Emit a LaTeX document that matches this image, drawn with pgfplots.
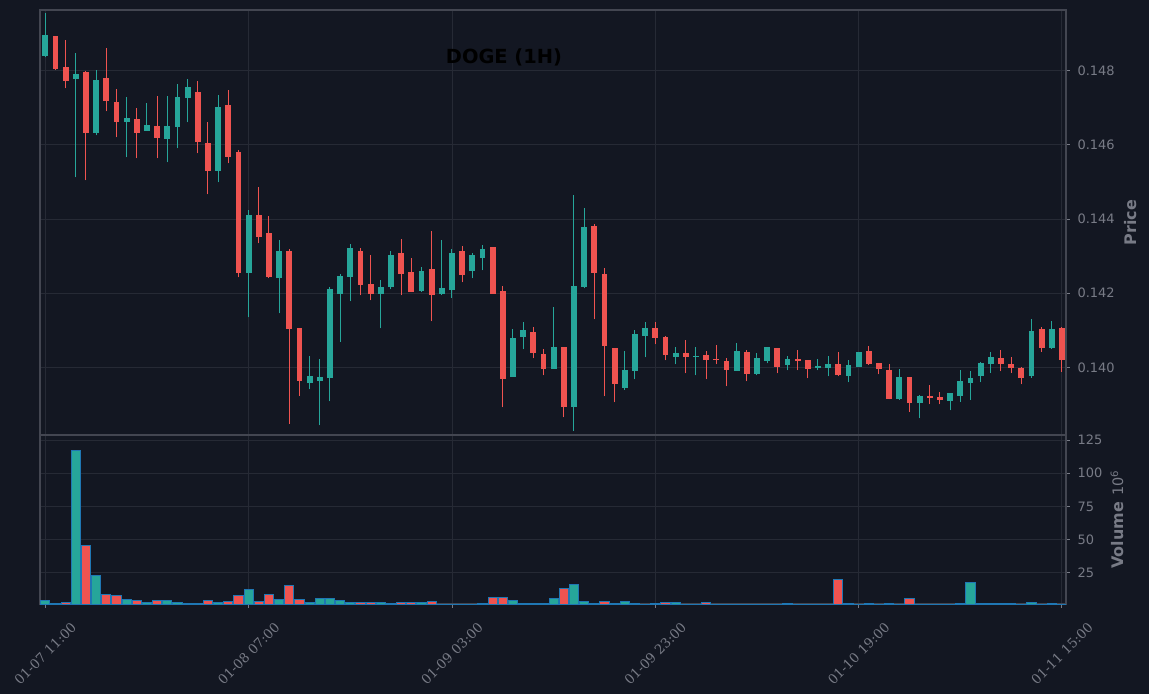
\documentclass[border=0pt]{standalone}
\usepackage{pgfplots}
\pgfplotsset{compat=1.18}
\usepackage{pgfplotstable}
\usepackage{fontspec}
\setmainfont{DejaVu Sans}
\newfontfamily\serifx{DejaVu Serif}
\definecolor{bgc}{HTML}{131722}
\definecolor{gridc}{HTML}{262A35}
\definecolor{spinec}{HTML}{434651}
\definecolor{txtc}{HTML}{787B86}
\definecolor{upc}{HTML}{26A69A}
\definecolor{dnc}{HTML}{EF5350}
\definecolor{edgec}{HTML}{1F77B4}

% up (green) candles: index, open, high, low, close, volume (1e6)
\pgfplotstableread{
i o h l c v
0 0.148405 0.149546 0.148360 0.148962 4.2
3 0.147784 0.148468 0.145124 0.147910 117.3
5 0.146328 0.148018 0.146256 0.147749 23.0
8 0.146625 0.147281 0.145663 0.146724 4.9
10 0.146382 0.147119 0.146382 0.146535 2.2
12 0.146166 0.147308 0.145528 0.146508 4.2
13 0.146490 0.147632 0.145906 0.147290 2.7
14 0.147272 0.147775 0.146607 0.147560 2.0
17 0.145304 0.147344 0.144989 0.147020 2.2
20 0.142553 0.144234 0.141348 0.144108 12.5
23 0.142418 0.143425 0.141456 0.143137 4.9
26 0.139587 0.140306 0.139407 0.139766 2.7
27 0.139641 0.140216 0.138436 0.139739 5.7
28 0.139721 0.142157 0.139083 0.142113 5.7
29 0.141987 0.142508 0.140692 0.142463 4.2
30 0.142445 0.143326 0.141780 0.143218 2.7
33 0.141987 0.142355 0.141052 0.142166 2.2
34 0.142175 0.143137 0.142104 0.143029 1.5
37 0.142068 0.142706 0.142041 0.142598 2.7
39 0.141987 0.143425 0.141960 0.142139 1.4
40 0.142095 0.143191 0.141879 0.143083 1.4
42 0.142607 0.143083 0.142400 0.143029 1.4
43 0.142957 0.143299 0.142616 0.143191 2.0
46 0.139749 0.141034 0.139749 0.140791 4.2
47 0.140827 0.141223 0.140486 0.141007 2.0
50 0.139964 0.141627 0.139964 0.140549 5.7
52 0.138939 0.144638 0.138292 0.142193 16.2
53 0.142175 0.144297 0.142131 0.143784 3.4
57 0.139452 0.140441 0.139398 0.139928 3.4
58 0.139910 0.141007 0.139677 0.140899 2.0
59 0.140854 0.141223 0.140270 0.141061 1.4
62 0.140288 0.140549 0.140081 0.140387 2.7
64 0.140288 0.140549 0.139784 0.140315 1.4
68 0.139910 0.140656 0.139910 0.140441 1.4
70 0.139829 0.140387 0.139784 0.140252 1.4
71 0.140180 0.140549 0.140108 0.140549 1.4
73 0.140072 0.140306 0.139919 0.140225 2.0
76 0.139991 0.140225 0.139919 0.140045 1.4
77 0.139991 0.140306 0.139757 0.140090 1.4
79 0.139775 0.140198 0.139596 0.140063 2.0
80 0.140018 0.140414 0.140018 0.140414 1.4
84 0.139155 0.139955 0.139128 0.139739 1.4
86 0.139047 0.139254 0.138625 0.139227 1.4
89 0.139101 0.139308 0.138841 0.139308 1.4
90 0.139236 0.139928 0.139074 0.139632 2.0
91 0.139587 0.139901 0.139128 0.139712 17.8
92 0.139775 0.140144 0.139596 0.140117 1.8
93 0.140099 0.140414 0.139856 0.140279 1.8
97 0.139775 0.141304 0.139721 0.140980 2.7
99 0.140530 0.141250 0.140504 0.141034 2.0
}\up

% down (red) candles
\pgfplotstableread{
i o h l c v
1 0.148935 0.148944 0.148018 0.148054 1.8
2 0.148099 0.148818 0.147524 0.147731 2.7
4 0.147964 0.147982 0.145043 0.146328 45.7
6 0.147802 0.148602 0.146904 0.147191 8.7
7 0.147155 0.147497 0.146202 0.146625 8.0
9 0.146697 0.146984 0.145636 0.146328 4.2
11 0.146508 0.147308 0.145636 0.146193 4.2
15 0.147425 0.147713 0.145771 0.146086 2.0
16 0.146050 0.146607 0.144665 0.145304 4.2
18 0.147074 0.147470 0.145501 0.145681 3.4
19 0.145807 0.145852 0.142427 0.142553 7.5
21 0.144108 0.144854 0.143344 0.143524 3.4
22 0.143623 0.144072 0.142400 0.142445 8.7
24 0.143137 0.143191 0.138472 0.141043 15.5
25 0.141061 0.141061 0.139227 0.139641 4.9
31 0.143137 0.143209 0.141942 0.142229 2.7
32 0.142247 0.143020 0.141807 0.141987 2.2
35 0.143083 0.143461 0.141942 0.142526 2.7
36 0.142571 0.142940 0.142030 0.142041 2.7
38 0.142652 0.143668 0.141241 0.141960 3.4
41 0.143137 0.143263 0.142292 0.142499 1.4
44 0.143245 0.143245 0.141987 0.141987 6.5
45 0.142059 0.142193 0.138921 0.139695 6.5
48 0.140953 0.141088 0.140243 0.140396 2.0
49 0.140360 0.140495 0.139784 0.139964 2.0
51 0.140549 0.140549 0.138652 0.138939 13.2
54 0.143811 0.143865 0.141295 0.142553 2.0
55 0.142517 0.142670 0.139218 0.140584 3.4
56 0.140521 0.140521 0.139056 0.139560 2.0
60 0.141061 0.141223 0.140620 0.140800 2.0
61 0.140818 0.140845 0.140189 0.140342 2.7
63 0.140387 0.140737 0.139838 0.140288 1.4
65 0.140333 0.140441 0.139677 0.140207 2.7
66 0.140234 0.140602 0.140081 0.140207 1.4
67 0.140171 0.140261 0.139488 0.139937 1.4
69 0.140414 0.140468 0.139623 0.139829 1.4
72 0.140521 0.140521 0.139838 0.140018 1.4
74 0.140225 0.140468 0.139919 0.140180 1.4
75 0.140198 0.140198 0.139704 0.139964 1.4
78 0.140090 0.140414 0.139757 0.139802 20.0
81 0.140441 0.140575 0.140072 0.140099 2.0
82 0.140117 0.140117 0.139811 0.139964 1.4
83 0.139928 0.140090 0.139137 0.139155 2.0
85 0.139739 0.139739 0.138805 0.139047 5.7
87 0.139227 0.139524 0.139002 0.139182 1.4
88 0.139200 0.139335 0.139002 0.139128 1.4
94 0.140252 0.140468 0.139892 0.140099 1.8
95 0.140090 0.140279 0.139856 0.139991 1.8
96 0.139982 0.140009 0.139542 0.139721 1.4
98 0.141034 0.141088 0.140423 0.140530 1.4
100 0.141061 0.141088 0.139883 0.140207 1.4
}\dn

\pgfplotsset{
  panel/.style={
    scale only axis, width=1026bp,
    xmin=-0.521, xmax=100.4,
    axis background/.style={fill=bgc},
    axis line style={spinec, line width=1.2bp},
    xmajorgrids, ymajorgrids,
    major grid style={gridc, line width=0.9bp},
    xtick={0,20,40,60,80,100},
    ytick pos=right, yticklabel pos=right,
    tick align=outside, major tick length=3.5bp,
    y tick style={txtc, line width=0.9bp},
    x tick style={txtc, line width=0.9bp},
    yticklabel style={font=\fontsize{13}{15}\selectfont, text=txtc, xshift=4.5bp},
  },
}

\begin{document}
\begin{tikzpicture}
\useasboundingbox (0,0) rectangle (1149bp,-694bp);
\fill[bgc] (0,0) rectangle (1149bp,-694bp);

\begin{axis}[panel,
  at={(40bp,-10bp)}, anchor=north west, height=425bp,
  ymin=0.138174, ymax=0.149636,
  xticklabels={}, x tick style={draw=none},
  ytick={0.140,0.142,0.144,0.146,0.148},
  yticklabels={0.140,0.142,0.144,0.146,0.148},
  title={DOGE (1H)},
  title style={at={(axis description cs:0.4522,0.8745)}, anchor=center,
    font=\fontsize{19.5}{22}\selectfont\bfseries, text=black},
  ylabel={Price},
  every axis y label/.style={at={(axis description cs:1.0625,0.5)}, rotate=90, anchor=center,
    font=\fontsize{16}{18}\selectfont\bfseries, text=txtc},
]
% wicks
\addplot[draw=none, mark=none, error bars/.cd, y dir=plus, y explicit, error mark=none,
  error bar style={draw=upc, line width=1bp}]
  table[x=i, y=l, y error expr=\thisrow{h}-\thisrow{l}] {\up};
\addplot[draw=none, mark=none, error bars/.cd, y dir=plus, y explicit, error mark=none,
  error bar style={draw=dnc, line width=1bp}]
  table[x=i, y=l, y error expr=\thisrow{h}-\thisrow{l}] {\dn};
% bodies
\addplot[draw=none, mark=none, error bars/.cd, y dir=plus, y explicit, error mark=none,
  error bar style={draw=upc, line width=5.8bp}]
  table[x=i, y=o, y error expr=\thisrow{c}-\thisrow{o}] {\up};
\addplot[draw=none, mark=none, error bars/.cd, y dir=plus, y explicit, error mark=none,
  error bar style={draw=dnc, line width=5.8bp}]
  table[x=i, y=c, y error expr=\thisrow{o}-\thisrow{c}] {\dn};
\end{axis}

\begin{axis}[panel,
  at={(40bp,-435bp)}, anchor=north west, height=169bp,
  ymin=1.43, ymax=128.8,
  xtick pos=bottom,
  ytick={25,50,75,100,125},
  yticklabels={25,50,75,100,125},
  xticklabels={01-07 11:00,01-08 07:00,01-09 03:00,01-09 23:00,01-10 19:00,01-11 15:00},
  xticklabel style={font=\serifx\fontsize{13.3}{15}\selectfont, text=txtc,
    anchor=center, yshift=-46bp, rotate=45},
  ylabel={{\fontsize{16}{18}\selectfont\bfseries Volume}\ \ {\fontsize{14.5}{16}\selectfont 10\textsuperscript{6}}},
  every axis y label/.style={at={(axis description cs:1.0497,0.5)}, rotate=90, anchor=center,
    text=txtc},
]
\addplot[ybar, bar width=9.2bp, bar shift=0pt, fill=upc, draw=edgec, line width=1bp]
  table[x=i, y=v] {\up};
\addplot[ybar, bar width=9.2bp, bar shift=0pt, fill=dnc, draw=edgec, line width=1bp]
  table[x=i, y=v] {\dn};
\end{axis}
\end{tikzpicture}
\end{document}
